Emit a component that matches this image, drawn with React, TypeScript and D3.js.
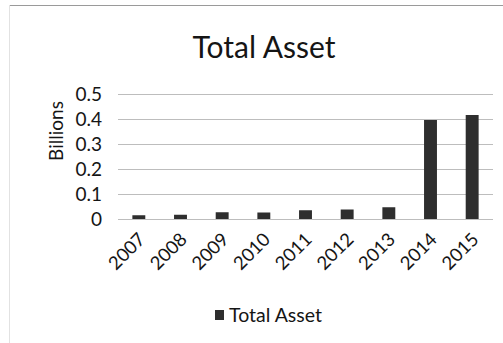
import React from "react";
import * as d3 from "d3";

const years = ["2007", "2008", "2009", "2010", "2011", "2012", "2013", "2014", "2015"];
const totalAsset = [0.015, 0.017, 0.027, 0.026, 0.035, 0.038, 0.047, 0.396, 0.416];
const yTicks = [0, 0.1, 0.2, 0.3, 0.4, 0.5];
const yTickLabels = ["0", "0.1", "0.2", "0.3", "0.4", "0.5"];
const chartTitle = "Total Asset";
const yAxisTitle = "Billions";
const seriesName = "Total Asset";

const W = 503;
const H = 343;
const FONT = "Lato, 'Open Sans', sans-serif";

export default function App() {
  const x = d3.scaleBand<string>().domain(years).range([118, 493]).padding(0);
  const y = d3.scaleLinear().domain([0, 0.5]).range([219, 94]);
  const barW = x.step() * 0.31;

  return (
    <svg
      width={W}
      height={H}
      style={{ position: "absolute", left: 0, top: 0, background: "#fff" }}
      fontFamily={FONT}
    >
      <line x1={10} x2={W} y1={5.5} y2={5.5} stroke="#9a9a9a" strokeWidth={1} />
      <line x1={9.5} x2={9.5} y1={5} y2={H} stroke="#e2e2e2" strokeWidth={1} />
      <text x={264} y={58} textAnchor="middle" fontSize={30} fill="#151515">
        {chartTitle}
      </text>
      {yTicks.map((t, i) => (
        <g key={t}>
          <line
            x1={118}
            x2={493}
            y1={Math.round(y(t)) + 0.5}
            y2={Math.round(y(t)) + 0.5}
            stroke="#bdbdbd"
            strokeWidth={1}
          />
          <text x={102} y={y(t)} dy="0.35em" textAnchor="end" fontSize={19} fill="#151515">
            {yTickLabels[i]}
          </text>
        </g>
      ))}
      <text
        transform={`translate(63,131) rotate(-90)`}
        textAnchor="middle"
        fontSize={19}
        fill="#151515"
      >
        {yAxisTitle}
      </text>
      {years.map((yr, i) => {
        const cx = (x(yr) as number) + x.bandwidth() / 2;
        return (
          <rect
            key={yr}
            x={cx - barW / 2}
            y={y(totalAsset[i])}
            width={barW}
            height={y(0) - y(totalAsset[i])}
            fill="#2e2e2e"
          />
        );
      })}
      {years.map((yr) => {
        const cx = (x(yr) as number) + x.bandwidth() / 2;
        return (
          <text
            key={yr}
            transform={`translate(${cx + 3},${236}) rotate(-45)`}
            textAnchor="end"
            dy="0.35em"
            fontSize={18.5}
            fill="#151515"
          >
            {yr}
          </text>
        );
      })}
      <rect x={215} y={310} width={9} height={10} fill="#2e2e2e" />
      <text x={229} y={322} fontSize={19.5} fill="#151515">
        {seriesName}
      </text>
    </svg>
  );
}
